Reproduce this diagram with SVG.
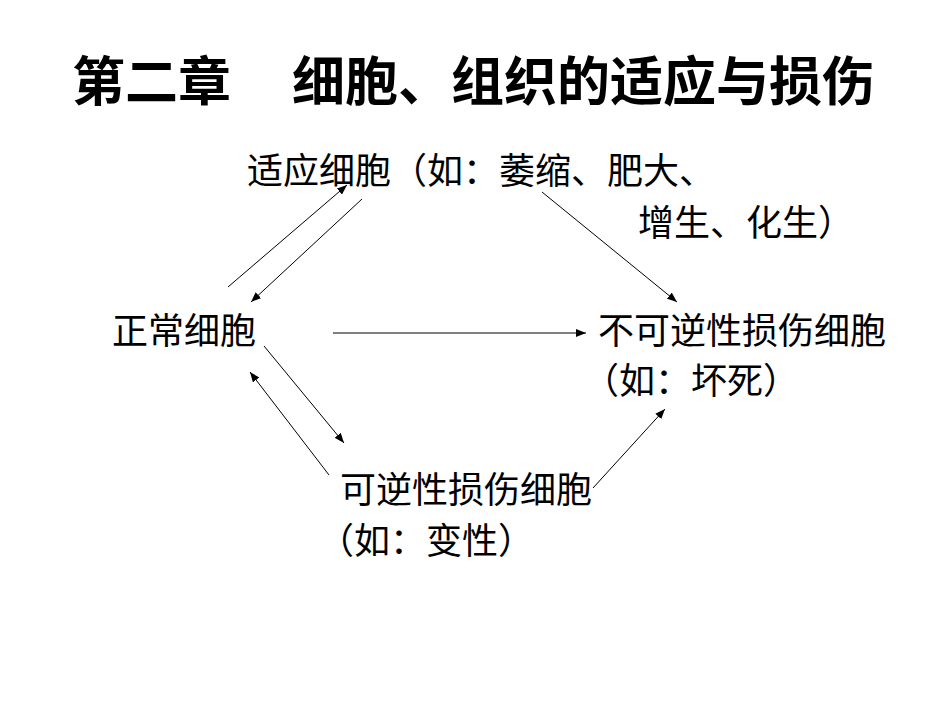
<svg xmlns="http://www.w3.org/2000/svg" width="950" height="713" viewBox="0 0 950 713">
<style>
text{font-family:"Noto Sans CJK SC","Noto Sans",sans-serif;fill:#000}
.t{font-size:53px;font-weight:700}
.n{font-size:36px}
.c{stroke:#000;stroke-width:1;fill:none;marker-end:url(#ah)}
</style>
<defs>
<marker id="ah" viewBox="0 0 10 8" refX="10" refY="4" markerWidth="10" markerHeight="8" markerUnits="userSpaceOnUse" orient="auto">
<path d="M0,0L10,4L0,8z" fill="#000"/>
</marker>
</defs>
<rect width="950" height="713" fill="#fff"/>
<g id="title"><text class="t" x="72" y="101">第二章</text><text class="t" x="292" y="101">细胞、组织的适应与损伤</text></g>
<g id="adapt"><text class="n" x="247" y="184">适应细胞（如：萎缩、肥大、</text><text class="n" x="638" y="236">增生、化生）</text></g>
<g id="normal"><text class="n" x="112" y="344">正常细胞</text></g>
<g id="irrev"><text class="n" x="598" y="344">不可逆性损伤细胞</text><text class="n" x="583" y="394">（如：坏死）</text></g>
<g id="rev"><text class="n" x="340" y="503">可逆性损伤细胞</text><text class="n" x="318" y="554">（如：变性）</text></g>
<g id="connectors">
<line class="c" x1="228" y1="287" x2="347" y2="185"/>
<line class="c" x1="362" y1="199" x2="251" y2="302"/>
<line class="c" x1="542" y1="192" x2="677" y2="302"/>
<line class="c" x1="333" y1="333" x2="586" y2="333"/>
<line class="c" x1="264" y1="346" x2="344" y2="443"/>
<line class="c" x1="329" y1="475" x2="250" y2="372"/>
<line class="c" x1="593" y1="488" x2="665" y2="409"/>
</g>
</svg>
